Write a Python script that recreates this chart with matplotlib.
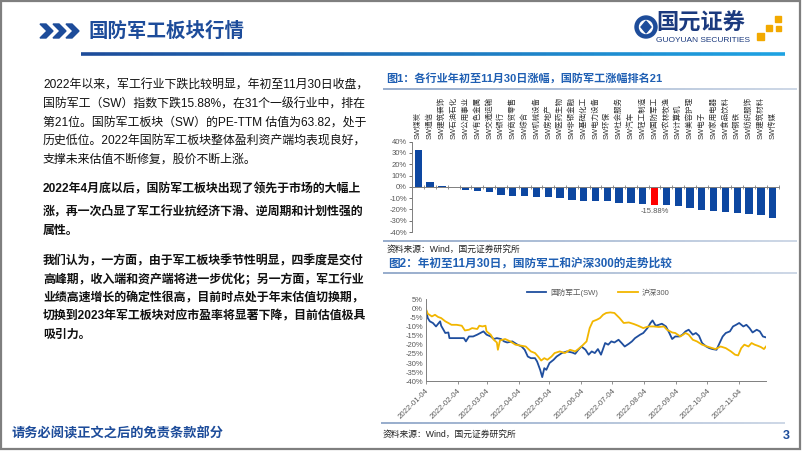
import matplotlib
matplotlib.use("Agg")
import matplotlib.pyplot as plt
import numpy as np
import pandas as pd
from matplotlib.collections import LineCollection
from matplotlib.patches import Polygon, Circle, Rectangle
from matplotlib.ticker import FuncFormatter
from matplotlib.colors import to_rgb

plt.rcParams['font.family'] = ['Liberation Sans', 'Noto Sans CJK SC', 'DejaVu Sans']

# ---- data: chart 1 (industry returns, YTD to 11/30) ----
industries = ['SW煤炭', 'SW通信', 'SW建筑装饰', 'SW石油石化', 'SW公用事业', 'SW有色金属',
              'SW交通运输', 'SW银行', 'SW商贸零售', 'SW综合', 'SW机械设备', 'SW房地产',
              'SW医药生物', 'SW非银金融', 'SW基础化工', 'SW电力设备', 'SW环保', 'SW社会服务',
              'SW汽车', 'SW轻工制造', 'SW国防军工', 'SW农林牧渔', 'SW计算机', 'SW美容护理',
              'SW电子', 'SW家用电器', 'SW食品饮料', 'SW钢铁', 'SW纺织服饰', 'SW建筑材料', 'SW传媒']
returns = [33.0, 4.5, 1.0, -0.5, -3.2, -3.8, -4.7, -7.4, -7.7, -8.3, -9.2, -9.4, -9.5,
           -11.5, -12.4, -12.5, -12.7, -14.1, -14.2, -15.3, -15.88, -16.5, -16.8, -18.3,
           -20.9, -21.2, -22.1, -23.6, -23.7, -24.5, -28.0]
highlight = 'SW国防军工'

# ---- data: chart 2 (defense vs CSI300, cumulative %) ----
fang_dates = ['01-04', '01-06', '01-08', '01-11', '01-14', '01-18', '01-19', '01-23', '01-26', '01-27',
              '02-03', '02-10', '02-12', '02-15', '02-19', '02-23', '02-26', '03-01', '03-04', '03-08',
              '03-11', '03-14', '03-18', '03-21', '03-24', '03-29', '04-03', '04-07', '04-10', '04-13',
              '04-16', '04-20', '04-22', '04-25', '04-27', '04-29', '05-01', '05-04', '05-08', '05-11',
              '05-16', '05-21', '05-26', '05-29', '06-01', '06-04', '06-08', '06-11', '06-14', '06-17',
              '06-20', '06-23', '06-27', '06-30', '07-03', '07-06', '07-10', '07-13', '07-16', '07-20',
              '07-23', '07-26', '07-31', '08-03', '08-07', '08-10', '08-12', '08-15', '08-18', '08-21',
              '08-25', '08-28', '08-31', '09-03', '09-07', '09-10', '09-13', '09-16', '09-20', '09-23',
              '09-26', '09-29', '10-03', '10-06', '10-09', '10-13', '10-16', '10-19', '10-22', '10-26',
              '10-29', '11-01', '11-04', '11-08', '11-11', '11-14', '11-17', '11-21', '11-24', '11-27',
              '11-30']
fang_vals = [0.0, -5.3, -7.1, -8.0, -9.9, -7.1, -9.5, -13.5, -13.2, -16.3,
             -16.3, -16.3, -18.1, -15.4, -15.4, -14.4, -13.5, -12.6, -14.4, -15.4,
             -16.8, -16.3, -16.8, -18.1, -18.7, -18.1, -19.9, -20.9, -22.7, -26.4,
             -27.3, -27.3, -29.1, -33.7, -37.7, -32.8, -33.7, -30.0, -28.2, -26.4,
             -24.5, -23.6, -24.2, -24.9, -22.7, -20.9, -22.7, -25.4, -23.6, -24.5,
             -22.3, -25.4, -19.0, -19.9, -18.1, -18.7, -17.2, -19.0, -20.9, -19.4,
             -18.1, -16.3, -14.4, -13.5, -10.8, -8.0, -6.6, -9.5, -9.0, -8.4,
             -9.9, -13.2, -16.8, -15.4, -15.4, -14.4, -12.6, -11.7, -14.4, -13.5,
             -15.0, -19.0, -20.9, -21.8, -22.3, -22.7, -19.0, -15.4, -13.5, -12.6,
             -9.9, -9.0, -8.0, -9.9, -9.0, -10.8, -13.2, -11.7, -12.6, -15.4,
             -15.9]
hs_dates = ['01-04', '01-06', '01-10', '01-13', '01-16', '01-19', '01-23', '01-26', '01-29', '02-03',
            '02-08', '02-11', '02-15', '02-18', '02-23', '02-25', '02-28', '03-03', '03-04', '03-08',
            '03-11', '03-14', '03-15', '03-17', '03-22', '03-27', '04-01', '04-07', '04-11', '04-16',
            '04-20', '04-23', '04-26', '04-29', '05-02', '05-06', '05-09', '05-14', '05-19', '05-24',
            '05-29', '06-01', '06-04', '06-09', '06-12', '06-15', '06-19', '06-22', '06-25', '06-28',
            '07-02', '07-06', '07-11', '07-15', '07-20', '07-25', '07-29', '08-03', '08-08', '08-13',
            '08-18', '08-23', '08-26', '08-31', '09-03', '09-08', '09-13', '09-16', '09-20', '09-24',
            '09-29', '10-04', '10-09', '10-12', '10-17', '10-22', '10-27', '10-31', '11-03', '11-06',
            '11-09', '11-13', '11-16', '11-19', '11-22', '11-25', '11-28', '11-30']
hs_vals = [0.0, -2.9, -4.4, -3.5, -4.7, -5.3, -7.1, -8.0, -9.0, -9.0,
           -9.5, -12.1, -11.7, -10.8, -11.3, -9.5, -9.9, -9.5, -12.6, -14.4,
           -17.2, -18.7, -22.7, -17.6, -16.8, -18.1, -19.9, -20.5, -20.9, -23.6,
           -24.5, -26.4, -28.6, -27.3, -28.2, -26.4, -24.5, -23.6, -24.5, -22.7,
           -23.6, -22.3, -20.9, -18.1, -10.8, -7.1, -6.2, -5.3, -3.5, -2.5,
           -2.2, -2.5, -5.3, -8.0, -7.7, -8.6, -9.5, -10.8, -9.9, -9.9,
           -10.2, -9.9, -11.7, -13.2, -13.5, -15.4, -13.5, -14.4, -17.2, -18.1,
           -19.9, -20.9, -21.8, -22.3, -20.9, -21.8, -23.6, -25.4, -25.8, -21.8,
           -19.9, -20.9, -19.0, -19.9, -20.5, -21.2, -22.3, -20.9]
tick_dates = ['01-04', '02-04', '03-04', '04-04', '05-04', '06-04', '07-04',
              '08-04', '09-04', '10-04', '11-04']

para1 = ['2022年以来，军工行业下跌比较明显，年初至11月30日收盘，',
         '国防军工（SW）指数下跌15.88%，在31个一级行业中，排在',
         '第21位。国防军工板块（SW）的PE-TTM 估值为63.82，处于',
         '历史低位。2022年国防军工板块整体盈利资产端均表现良好，',
         '支撑未来估值不断修复，股价不断上涨。']
para2 = ['2022年4月底以后，国防军工板块出现了领先于市场的大幅上',
         '涨，再一次凸显了军工行业抗经济下滑、逆周期和计划性强的',
         '属性。']
para3 = ['我们认为，一方面，由于军工板块季节性明显，四季度是交付',
         '高峰期，收入端和资产端将进一步优化；另一方面，军工行业',
         '业绩高速增长的确定性很高，目前时点处于年末估值切换期，',
         '切换到2023年军工板块对应市盈率将显著下降，目前估值极具',
         '吸引力。']

navy = '#1D4C9A'
bar_color = '#0D47A1'
blue_line = '#1F4E9E'
gold_line = '#F2B600'
grey_txt = '#595959'

W, H = 802, 451
fig = plt.figure(figsize=(W / 100, H / 100), dpi=100)

# overlay in pixel coordinates for the slide decoration
bg = fig.add_axes([0, 0, 1, 1])
bg.set_xlim(0, W)
bg.set_ylim(H, 0)
bg.axis('off')


def grad_line(x0, x1, y, c0, c1, lw):
    xs = np.linspace(x0, x1, 60)
    segs = [[(xs[i], y), (xs[i + 1], y)] for i in range(len(xs) - 1)]
    a, b = np.array(to_rgb(c0)), np.array(to_rgb(c1))
    cols = [a + (b - a) * t for t in np.linspace(0, 1, len(segs))]
    bg.add_collection(LineCollection(segs, colors=cols, linewidths=lw))


# border
bg.add_patch(Rectangle((0.8, 0.8), W - 3, H - 2.5, fill=False, edgecolor='#7F7F7F', lw=1.6))

# header chevrons + title
for k in range(3):
    x0 = 40 + k * 13
    bg.add_patch(Polygon([(x0, 24), (x0 + 6, 24), (x0 + 13, 31), (x0 + 6, 38), (x0, 38), (x0 + 7, 31)],
                         closed=True, color=navy))
bg.text(88, 31, '国防军工板块行情', fontsize=14, fontweight='bold', color=navy, va='center', ha='left')
grad_line(81, 785, 54, '#1D4C9A', '#1EA2E2', 2.6)

# logo
bg.add_patch(Circle((646, 27), 11, color=navy))
bg.add_patch(Circle((646, 27), 6.5, color='white'))
bg.add_patch(Polygon([(646, 21), (651, 27), (646, 33), (641, 27)], closed=True, color=navy))
bg.text(656, 24, '国元证券', fontsize=16, fontweight='bold', color='#1B3A7E', va='center', ha='left')
bg.text(656, 41, 'GUOYUAN SECURITIES', fontsize=6, color='#1B3A7E', va='center', ha='left')
for (sx, sy, s) in [(775, 16, 6), (766, 25, 6), (776, 26, 5), (757, 33, 7)]:
    bg.add_patch(Rectangle((sx, sy), s, s, color='#F2A900'))

# left text
y = 86
for line in para1:
    bg.text(43, y, line, fontsize=8.6, color='#111111', va='center', ha='left')
    y += 18.3
for line, yy in zip(para2, [189, 212, 231]):
    bg.text(43, yy, line, fontsize=8.6, fontweight='bold', color='#111111', va='center', ha='left')
y = 261.5
for line in para3:
    bg.text(43, y, line, fontsize=8.6, fontweight='bold', color='#111111', va='center', ha='left')
    y += 18.4

# chart titles, separators and sources
bg.text(386, 78, '图1：各行业年初至11月30日涨幅，国防军工涨幅排名21', fontsize=8, fontweight='bold',
        color='#1F5FB3', va='center', ha='left')
grad_line(383, 797, 88.5, '#8FA6C8', '#C9D4E4', 1.3)
grad_line(383, 797, 241, '#8FA6C8', '#C9D4E4', 1.3)
bg.text(387, 249.5, '资料来源：Wind，国元证券研究所', fontsize=6.3, color='#222222', va='center', ha='left')
bg.text(388, 264, '图2：年初至11月30日，国防军工和沪深300的走势比较', fontsize=8.4, fontweight='bold',
        color='#1F5FB3', va='center', ha='left')
grad_line(383, 797, 273, '#8FA6C8', '#C9D4E4', 1.3)
grad_line(381, 785, 423, '#8FA6C8', '#C9D4E4', 1.3)
bg.text(383, 434, '资料来源：Wind，国元证券研究所', fontsize=6.3, color='#222222', va='center', ha='left')

# footer
bg.text(12, 434, '请务必阅读正文之后的免责条款部分', fontsize=9.5, fontweight='bold', color=navy,
        va='center', ha='left')
bg.text(790, 436, '3', fontsize=9, fontweight='bold', color=navy, va='center', ha='right')

# ---- chart 1: bars ----
ax1 = fig.add_axes([412.4 / W, 1 - 232 / H, 366.2 / W, 90.3 / H])
xpos = np.arange(len(industries))
colors = ['#FF0000' if n == highlight else bar_color for n in industries]
ax1.bar(xpos, returns, width=0.62, color=colors)
ax1.set_xlim(-0.5, len(industries) - 0.5)
ax1.set_ylim(-40, 40)
ax1.set_yticks(np.arange(-40, 41, 10))
ax1.yaxis.set_major_formatter(FuncFormatter(lambda v, p: f'{v:.0f}%'))
ax1.tick_params(axis='y', labelsize=5.5, colors=grey_txt, length=2.5, width=0.6, pad=1.5)
for sp in ['top', 'right']:
    ax1.spines[sp].set_visible(False)
ax1.spines['left'].set_color('#7F7F7F')
ax1.spines['left'].set_linewidth(0.7)
ax1.spines['bottom'].set_position(('data', 0))
ax1.spines['bottom'].set_color('#7F7F7F')
ax1.spines['bottom'].set_linewidth(0.7)
ax1.set_xticks(np.arange(-0.5, len(industries), 1))
ax1.tick_params(axis='x', direction='inout', length=3, width=0.6, colors='#7F7F7F', labelbottom=False)
for i, name in enumerate(industries):
    ax1.text(i, 42, name, rotation=90, fontsize=5.4, color='#333333', ha='center', va='bottom')
k = industries.index(highlight)
ax1.text(k, returns[k] - 2.5, f'{returns[k]:.2f}%', fontsize=5.5, color=grey_txt, ha='center', va='top')
ax1.patch.set_alpha(0)

# ---- chart 2: lines ----
ax2 = fig.add_axes([425.7 / W, 1 - 381.3 / H, 340.3 / W, 82 / H])
fd = pd.to_datetime(['2022-' + d for d in fang_dates])
hd = pd.to_datetime(['2022-' + d for d in hs_dates])
l1, = ax2.plot(fd, fang_vals, color=blue_line, lw=1.3, label='国防军工(SW)')
l2, = ax2.plot(hd, hs_vals, color=gold_line, lw=1.3, label='沪深300')
ax2.set_xlim(pd.Timestamp('2022-01-04'), pd.Timestamp('2022-11-30'))
ax2.set_ylim(-40, 5)
ax2.set_yticks(np.arange(-40, 6, 5))
ax2.yaxis.set_major_formatter(FuncFormatter(lambda v, p: f'{v:.0f}%'))
ticks = pd.to_datetime(['2022-' + d for d in tick_dates])
ax2.set_xticks(ticks)
ax2.set_xticklabels([t.strftime('%Y-%m-%d') for t in ticks], rotation=45, ha='right',
                    rotation_mode='anchor', fontsize=5.6, color=grey_txt)
ax2.tick_params(axis='y', labelsize=5.5, colors=grey_txt, length=0, pad=2)
ax2.tick_params(axis='x', length=2.5, width=0.6, colors='#7F7F7F', pad=2)
for lab in ax2.get_xticklabels():
    lab.set_color(grey_txt)
for sp in ['top', 'right']:
    ax2.spines[sp].set_visible(False)
for sp in ['left', 'bottom']:
    ax2.spines[sp].set_color('#7F7F7F')
    ax2.spines[sp].set_linewidth(0.7)
ax2.patch.set_alpha(0)
fig.legend(handles=[l1, l2], loc='center', bbox_to_anchor=(598 / W, 1 - 293 / H), ncol=2,
           frameon=False, fontsize=5.5, handlelength=2.6, columnspacing=2.6, labelcolor=grey_txt,
           handletextpad=0.5)

fig.savefig('out.png', dpi=100)
